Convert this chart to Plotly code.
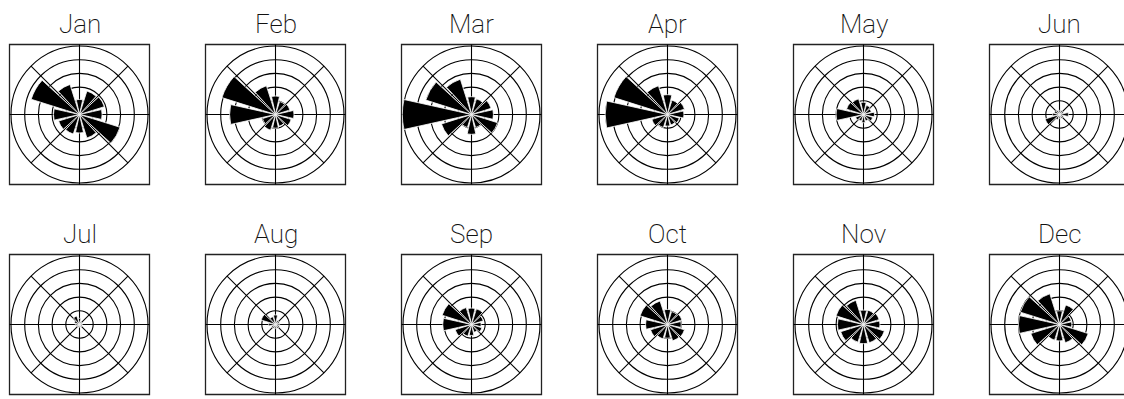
import plotly.graph_objects as go

# ---- data (ring units: outer circle = 5) ----
months = ["Jan", "Feb", "Mar", "Apr", "May", "Jun",
          "Jul", "Aug", "Sep", "Oct", "Nov", "Dec"]
directions = [0, 30, 60, 90, 120, 150, 180, 210, 240, 270, 300, 330]

jan = [1.1, 1.8, 1.9, 1.65, 3.1, 1.8, 1.35, 1.5, 1.6, 1.9, 3.7, 2.3]
feb = [1.35, 1.0, 1.1, 1.35, 1.2, 0.9, 1.0, 1.2, 1.0, 3.35, 4.1, 2.2]
mar = [1.3, 1.2, 1.5, 1.6, 2.0, 1.0, 1.45, 1.0, 2.3, 5.05, 3.5, 2.7]
apr = [1.45, 1.1, 1.3, 1.2, 0.9, 0.8, 0.85, 1.0, 1.2, 4.55, 4.1, 2.2]
may = [0.9, 0.7, 0.6, 0.8, 0.7, 0.5, 0.6, 0.5, 0.6, 2.0, 1.3, 1.2]
jun = [0.3, 0.3, 0.3, 0.65, 0.3, 0.3, 0.3, 0.4, 1.1, 0.5, 0.4, 0.3]
jul = [0.45, 0.2, 0.2, 0.2, 0.2, 0.2, 0.2, 0.2, 0.2, 0.3, 0.4, 0.65]
aug = [0.7, 0.3, 0.3, 0.3, 0.3, 0.3, 0.3, 0.3, 0.3, 0.5, 1.1, 0.6]
sep = [1.2, 1.2, 0.9, 0.7, 0.8, 0.6, 0.8, 0.9, 1.25, 2.1, 2.25, 1.3]
oct_ = [1.1, 1.0, 1.1, 1.0, 1.3, 1.25, 1.0, 1.1, 1.3, 1.6, 2.1, 1.8]
nov = [1.05, 1.1, 1.2, 1.2, 1.6, 1.4, 1.4, 1.35, 1.75, 1.9, 2.1, 1.85]
dec = [1.0, 1.5, 0.9, 0.9, 2.2, 1.4, 1.2, 1.2, 2.2, 3.0, 3.0, 2.35]

values = [jan, feb, mar, apr, may, jun, jul, aug, sep, oct_, nov, dec]
n_rings = 5

# ---- layout geometry (pixels) ----
W, H = 1124, 399
col_x = [79.5 + 196 * i for i in range(6)]
row_y = [114.5, 324.5]
title_y = [24.0, 233.5]
box_half = 70.0
outer_r = 68.5
grid_col = "#000000"


def fx(x):
    return x / W


def fy(y):
    return 1 - y / H


fig = go.Figure()
shapes = []
annotations = []
layout_polars = {}

for i, (name, vals) in enumerate(zip(months, values)):
    r, c = divmod(i, 6)
    cx, cy = col_x[c], row_y[r]
    pid = "polar" if i == 0 else f"polar{i + 1}"
    h = min(70.0, W - cx, cx)
    rmax = n_rings * h / outer_r

    fig.add_trace(go.Barpolar(
        r=vals, theta=directions, width=[25] * len(directions),
        marker=dict(color="black", line=dict(color="white", width=0.8)),
        subplot=pid, showlegend=False, hoverinfo="skip",
    ))
    layout_polars[pid] = dict(
        domain=dict(x=[fx(cx - h), fx(cx + h)], y=[fy(cy + h), fy(cy - h)]),
        bgcolor="rgba(0,0,0,0)",
        radialaxis=dict(visible=False, range=[0, rmax]),
        angularaxis=dict(visible=False, rotation=90, direction="clockwise"),
    )

    # box
    shapes.append(dict(type="rect", xref="paper", yref="paper", layer="below",
                       x0=fx(cx - box_half), x1=fx(cx + box_half),
                       y0=fy(cy + box_half), y1=fy(cy - box_half),
                       line=dict(color="#222222", width=1.3)))
    # rings
    for k in range(1, n_rings + 1):
        rr = outer_r * k / n_rings
        shapes.append(dict(type="circle", xref="paper", yref="paper", layer="below",
                           x0=fx(cx - rr), x1=fx(cx + rr),
                           y0=fy(cy + rr), y1=fy(cy - rr),
                           line=dict(color=grid_col, width=1.1)))
    # cardinal lines to box edges
    shapes.append(dict(type="line", xref="paper", yref="paper", layer="below",
                       x0=fx(cx - box_half), x1=fx(cx + box_half), y0=fy(cy), y1=fy(cy),
                       line=dict(color=grid_col, width=1.1)))
    shapes.append(dict(type="line", xref="paper", yref="paper", layer="below",
                       x0=fx(cx), x1=fx(cx), y0=fy(cy - box_half), y1=fy(cy + box_half),
                       line=dict(color=grid_col, width=1.1)))
    # diagonals to outer circle
    d = outer_r / 2 ** 0.5
    shapes.append(dict(type="line", xref="paper", yref="paper", layer="below",
                       x0=fx(cx - d), x1=fx(cx + d), y0=fy(cy - d), y1=fy(cy + d),
                       line=dict(color=grid_col, width=1.1)))
    shapes.append(dict(type="line", xref="paper", yref="paper", layer="below",
                       x0=fx(cx - d), x1=fx(cx + d), y0=fy(cy + d), y1=fy(cy - d),
                       line=dict(color=grid_col, width=1.1)))

    annotations.append(dict(text=name, xref="paper", yref="paper",
                            x=fx(cx), y=fy(title_y[r]), xanchor="center", yanchor="middle",
                            showarrow=False,
                            font=dict(family="Roboto", weight=200, size=26, color="#111111")))

fig.update_layout(
    width=W, height=H, autosize=False,
    margin=dict(l=0, r=0, t=0, b=0),
    paper_bgcolor="white", plot_bgcolor="white",
    shapes=shapes, annotations=annotations,
    **layout_polars,
)

fig.write_html("out.html")
